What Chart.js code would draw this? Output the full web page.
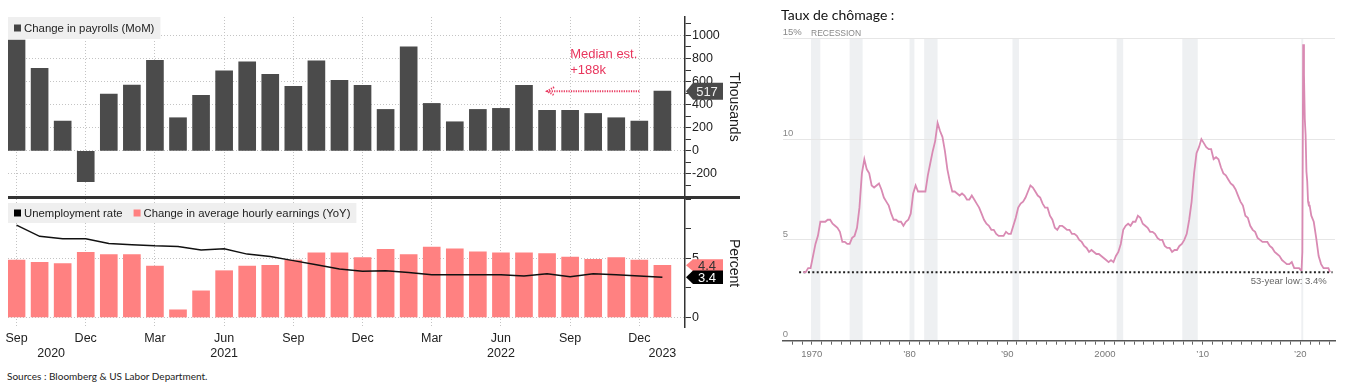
<!DOCTYPE html>
<html>
<head>
<meta charset="utf-8">
<script src="https://cdn.jsdelivr.net/npm/chart.js@4.4.0/dist/chart.umd.min.js"></script>
<style>
  body { margin: 0; background: #fff; }
  #wrap { position: relative; width: 1350px; height: 388px; overflow: hidden; }
  canvas { position: absolute; }
  .txt { position: absolute; white-space: nowrap; line-height: 1; }
</style>
</head>
<body>
<div id="wrap">
  <canvas id="payrolls" width="742" height="198" style="left:0;top:0"></canvas>
  <canvas id="wages" width="742" height="170" style="left:0;top:198px"></canvas>
  <div style="position:absolute;left:8px;top:196px;width:732px;height:3px;background:#333"></div>
  <div class="txt" style="left:7px;top:371px;font-family:Lato;font-size:10px;color:#222">Sources : Bloomberg &amp; US Labor Department.</div>
  <canvas id="unrate" width="605" height="388" style="left:745px;top:0"></canvas>
  <div class="txt" style="left:781px;top:8px;font-family:Lato;font-size:14px;color:#111">Taux de chômage :</div>
</div>
<script>
  // ---- left panel: monthly data, Sep 2020 -> Jan 2023 ----
  const months = ['Sep 20','Oct 20','Nov 20','Dec 20','Jan 21','Feb 21','Mar 21','Apr 21','May 21','Jun 21','Jul 21','Aug 21',
    'Sep 21','Oct 21','Nov 21','Dec 21','Jan 22','Feb 22','Mar 22','Apr 22','May 22','Jun 22','Jul 22','Aug 22',
    'Sep 22','Oct 22','Nov 22','Dec 22','Jan 23'];
  const payrolls = [960, 716, 258, -267, 493, 571, 785, 287, 481, 693, 771, 664, 559, 780, 612, 568,
    359, 902, 411, 252, 359, 368, 568, 351, 351, 324, 287, 258, 517];
  const unemployment = [7.8, 6.85, 6.65, 6.65, 6.25, 6.15, 6.05, 6.0, 5.7, 5.8, 5.35, 5.15, 4.8, 4.45, 4.1, 3.9,
    3.95, 3.8, 3.6, 3.6, 3.6, 3.6, 3.5, 3.7, 3.45, 3.7, 3.6, 3.5, 3.4];
  const hourlyEarnings = [4.85, 4.65, 4.55, 5.5, 5.3, 5.3, 4.35, 0.65, 2.25, 3.95, 4.35, 4.4, 4.85, 5.45, 5.45, 5.05,
    5.75, 5.3, 5.95, 5.8, 5.55, 5.45, 5.45, 5.4, 5.1, 4.9, 5.05, 4.85, 4.4];
  const medianEstimate = 188;

  // x tick positions (month index) and their labels
  const monthTickPos = [0, 1.5, 3, 6, 9, 12, 15, 18, 21, 24, 27, 28];
  const monthTickText = ['Sep', ['', '2020'], 'Dec', 'Mar', ['Jun', '2021'], 'Sep', 'Dec', 'Mar', ['Jun', '2022'], 'Sep', 'Dec', ['', '2023']];
  const payrollTicks = [-300, -200, -100, 0, 100, 200, 300, 400, 500, 600, 700, 800, 900, 1000, 1100];
  const payrollLabels = [-200, 0, 200, 400, 600, 800, 1000];
  const percentTicks = [0, 2.5, 5, 7.5, 10];
  const percentLabels = [0, 5];

  // ---- right panel: US unemployment rate ----
  const unrateQuarterly = [ // 1969 Q1 .. 2019 Q4
    3.4,3.4,3.6,3.6, 4.2,4.8,5.2,5.9, 5.9,5.9,6.0,6.0, 5.8,5.7,5.6,5.4, 4.9,4.9,4.8,4.8,
    5.1,5.2,5.6,6.6, 8.3,9.0,8.5,8.3, 7.7,7.6,7.7,7.8, 7.5,7.1,6.9,6.7, 6.3,6.0,6.0,5.9,
    5.9,5.7,5.9,6.0, 6.3,7.3,7.7,7.4, 7.4,7.4,7.4,8.2, 8.8,9.4,9.9,10.8, 10.4,10.1,9.4,8.5,
    7.9,7.4,7.4,7.3, 7.2,7.3,7.2,7.0, 7.0,7.2,7.0,6.8, 6.6,6.3,6.0,5.8, 5.7,5.5,5.5,5.3,
    5.2,5.2,5.2,5.4, 5.3,5.3,5.7,6.1, 6.6,6.8,6.9,7.1, 7.4,7.7,7.6,7.4, 7.2,7.1,6.8,6.6,
    6.6,6.2,6.0,5.6, 5.5,5.7,5.7,5.6, 5.5,5.5,5.3,5.3, 5.2,5.0,4.9,4.7, 4.6,4.4,4.5,4.4,
    4.3,4.3,4.2,4.1, 4.0,3.9,4.0,3.9, 4.2,4.4,4.8,5.5, 5.7,5.8,5.7,5.9, 5.9,6.2,6.1,5.8,
    5.7,5.6,5.4,5.4, 5.3,5.1,5.0,5.0, 4.7,4.6,4.6,4.4, 4.5,4.5,4.7,4.8, 5.0,5.3,6.0,6.9,
    8.3,9.3,9.6,10.0, 9.8,9.6,9.5,9.5, 9.0,9.1,9.0,8.6, 8.3,8.2,8.0,7.8, 7.7,7.5,7.2,6.9,
    6.7,6.2,6.1,5.7, 5.5,5.4,5.1,5.0, 4.9,4.9,4.9,4.7, 4.6,4.4,4.3,4.2, 4.0,3.9,3.8,3.8,
    3.9,3.6,3.6,3.6
  ];
  const unrate2020 = [3.5, 3.5, 4.4, 14.7, 13.2, 11.0, 10.2, 8.4, 7.9, 6.9, 6.7, 6.7];
  const unrateQuarterly2021 = [6.2, 5.9, 5.1, 4.2, 3.8, 3.6, 3.6, 3.6];
  const unrateJan2023 = 3.4;
  const lowRate = 3.4, lowFrom = 1968.7, lowTo = 2023.3;
  const recessions = [[1969.92, 1970.87], [1973.87, 1975.2], [1980.0, 1980.5], [1981.5, 1982.87],
    [1990.54, 1991.2], [2001.2, 2001.87], [2007.92, 2009.5], [2020.1, 2020.3]];
  const decadeYears = [1970, 1980, 1990, 2000, 2010, 2020];
  const decadeText = ['1970', '\u201980', '\u201990', '2000', '\u201910', '\u201920'];

  Chart.defaults.font.family = '"Liberation Sans", Arial, sans-serif';
  Chart.defaults.color = '#222';

  const FONT = '"Liberation Sans", Arial, sans-serif';

  // legend drawn inside the plot on a grey strip
  const boxLegend = {
    id: 'boxLegend',
    afterDatasetsDraw(chart, args, o) {
      const ctx = chart.ctx, a = chart.chartArea;
      const items = o.order.map(i => chart.data.datasets[i]);
      ctx.save();
      ctx.font = o.fontSize + 'px ' + FONT;
      let w = 6;
      items.forEach((d, i) => { w += 10 + ctx.measureText(d.label).width + (i < items.length - 1 ? 11 : 6); });
      const x0 = a.left, y0 = a.top + o.top, h = o.height;
      ctx.fillStyle = '#efefef';
      ctx.fillRect(x0, y0, w, h);
      let x = x0 + 6;
      ctx.textBaseline = 'middle';
      items.forEach(d => {
        ctx.fillStyle = d.legendColor;
        ctx.fillRect(x, y0 + h / 2 - 3.5, 7, 7);
        x += 10;
        ctx.fillStyle = '#222';
        ctx.fillText(d.label, x, y0 + h / 2 + 0.5);
        x += ctx.measureText(d.label).width + 11;
      });
      ctx.restore();
    }
  };

  // last-value tags on the right axis
  const valueTags = {
    id: 'valueTags',
    afterDraw(chart, args, o) {
      const ctx = chart.ctx, a = chart.chartArea, ys = chart.scales.y;
      ctx.save();
      o.tags.forEach(t => {
        const ds = chart.data.datasets[t.dataset];
        const v = ds.data[ds.data.length - 1].y;
        const py = ys.getPixelForValue(v);
        const x0 = a.right + 1, x1 = a.right + 8, x2 = a.right + 38, h = t.h;
        ctx.beginPath();
        ctx.moveTo(x0, py); ctx.lineTo(x1, py - h / 2); ctx.lineTo(x2, py - h / 2);
        ctx.lineTo(x2, py + h / 2); ctx.lineTo(x1, py + h / 2); ctx.closePath();
        ctx.fillStyle = t.bg; ctx.fill();
        ctx.fillStyle = t.fg;
        ctx.font = '13px ' + FONT;
        ctx.textAlign = 'center'; ctx.textBaseline = 'middle';
        ctx.fillText(t.decimals ? v.toFixed(t.decimals) : String(v), (x1 + x2) / 2 - 1, py + 1);
      });
      ctx.restore();
    }
  };

  const medianNote = {
    id: 'medianNote',
    afterDatasetsDraw(chart, args, o) {
      const {ctx, scales: {x, y}} = chart;
      ctx.save();
      ctx.fillStyle = o.color; ctx.strokeStyle = o.color;
      ctx.font = '13px ' + FONT;
      ctx.textBaseline = 'middle';
      ctx.fillText('Median est.', x.getPixelForValue(o.textX), y.getPixelForValue(o.textY[0]));
      ctx.fillText('+' + medianEstimate + 'k', x.getPixelForValue(o.textX), y.getPixelForValue(o.textY[1]));
      const ay = y.getPixelForValue(payrolls[payrolls.length - 1]);
      const xa = x.getPixelForValue(o.arrowFrom), xb = x.getPixelForValue(o.arrowTo);
      ctx.lineWidth = 2; ctx.setLineDash([1.2, 1.2]);
      ctx.beginPath(); ctx.moveTo(xa, ay); ctx.lineTo(xb, ay); ctx.stroke();
      ctx.beginPath(); ctx.moveTo(xb + 7, ay - 4); ctx.lineTo(xb, ay); ctx.lineTo(xb + 7, ay + 4); ctx.stroke();
      ctx.restore();
    }
  };

  function monthAxis(showLabels) {
    return {
      type: 'linear', min: -0.37, max: 28.98, offset: false,
      afterBuildTicks: s => { s.ticks = monthTickPos.map(v => ({value: v})); },
      afterFit: s => { s.height = showLabels ? 41 : 0; s.paddingLeft = 0; s.paddingRight = 0; },
      grid: { offset: false, color: c => (c.tick && c.tick.value % 3 === 0) ? '#c4c4c4' : 'transparent', drawTicks: false },
      border: { display: false, dash: [1, 2] },
      ticks: {
        display: showLabels, autoSkip: false, maxRotation: 0, padding: 4,
        font: { size: 12.5 }, color: '#222',
        callback: (v, i) => monthTickText[i]
      }
    };
  }

  function valueAxis(min, max, tickList, labelList, gridList, title) {
    return {
      position: 'right', min: min, max: max,
      afterBuildTicks: s => { s.ticks = tickList.map(v => ({value: v})); },
      afterFit: s => { s.width = 57; s.paddingTop = 0; s.paddingBottom = 0; },
      grid: {
        color: c => gridList.includes(c.tick.value) ? '#c4c4c4' : 'transparent',
        tickColor: '#333', tickLength: 6, tickBorderDash: []
      },
      border: { color: '#333', width: 1.5, dash: [1, 2] },
      ticks: {
        autoSkip: false, padding: 1, font: { size: 12.5 }, color: '#222',
        callback: v => labelList.includes(v) ? v : ''
      },
      title: { display: true, text: title, font: { size: 14 }, color: '#222', padding: 0 }
    };
  }

  // ---- top: payrolls ----
  new Chart(document.getElementById('payrolls'), {
    type: 'bar',
    data: {
      datasets: [{
        label: 'Change in payrolls (MoM)', legendColor: '#444',
        data: payrolls.map((v, i) => ({x: i, y: v})),
        backgroundColor: '#4b4b4b', barThickness: 17
      }]
    },
    options: {
      responsive: false, animation: false,
      layout: { padding: { left: 8, top: 17, bottom: 1, right: 0 } },
      plugins: {
        legend: { display: false }, tooltip: { enabled: false },
        boxLegend: { order: [0], top: 0, height: 22, fontSize: 11.4 },
        valueTags: { tags: [{ dataset: 0, bg: '#4a4a4a', fg: '#eeeeee', h: 17 }] },
        medianNote: { color: '#e8365d', textX: 24.0, textY: [833, 694], arrowFrom: 27.0, arrowTo: 23.0 }
      },
      scales: {
        x: monthAxis(false),
        y: valueAxis(-400, 1160, payrollTicks, payrollLabels, payrollLabels, 'Thousands')
      }
    },
    plugins: [boxLegend, valueTags, medianNote]
  });

  // ---- bottom: unemployment + hourly earnings ----
  new Chart(document.getElementById('wages'), {
    type: 'bar',
    data: {
      datasets: [
        { type: 'line', label: 'Unemployment rate', legendColor: '#000',
          data: unemployment.map((v, i) => ({x: i, y: v})),
          borderColor: '#111', borderWidth: 1.5, pointRadius: 0, order: 0 },
        { type: 'bar', label: 'Change in average hourly earnings (YoY)', legendColor: '#ff8080',
          data: hourlyEarnings.map((v, i) => ({x: i, y: v})),
          backgroundColor: '#ff8181', barThickness: 17, order: 1 }
      ]
    },
    options: {
      responsive: false, animation: false,
      layout: { padding: { left: 8, top: 1, bottom: 0, right: 0 } },
      plugins: {
        legend: { display: false }, tooltip: { enabled: false },
        boxLegend: { order: [0, 1], top: 4, height: 20, fontSize: 11.3 },
        valueTags: { tags: [
          { dataset: 1, bg: '#ff8080', fg: '#333', h: 12, decimals: 1 },
          { dataset: 0, bg: '#000', fg: '#fff', h: 13.5, decimals: 1 }
        ] }
      },
      scales: {
        x: monthAxis(true),
        y: valueAxis(-0.8, 10, percentTicks, percentLabels, percentLabels, 'Percent')
      }
    },
    plugins: [boxLegend, valueTags]
  });

  // ---- right: unemployment rate since 1969 ----
  const unratePoints = [];
  unrateQuarterly.forEach((v, i) => unratePoints.push({x: 1969 + i / 4 + 0.125, y: v}));
  unrate2020.forEach((v, i) => unratePoints.push({x: 2020 + i / 12 + 1 / 24, y: v}));
  unrateQuarterly2021.forEach((v, i) => unratePoints.push({x: 2021 + i / 4 + 0.125, y: v}));
  unratePoints.push({x: 2023.04, y: unrateJan2023});

  const recessionBands = {
    id: 'recessionBands',
    beforeDraw(chart) {
      const {ctx, chartArea: a, scales: {x}} = chart;
      ctx.save();
      ctx.fillStyle = '#eef0f2';
      recessions.forEach(([s, e]) => {
        const x0 = x.getPixelForValue(s), x1 = x.getPixelForValue(e);
        ctx.fillRect(x0, a.top, x1 - x0, a.bottom - a.top);
      });
      ctx.font = '8.5px ' + FONT;
      ctx.fillStyle = '#888';
      ctx.textBaseline = 'middle';
      ctx.fillText('RECESSION', x.getPixelForValue(recessions[0][0]), a.top - 5);
      ctx.restore();
    },
    afterDatasetsDraw(chart) {
      const {ctx, scales: {x, y}} = chart;
      ctx.save();
      ctx.font = '9.5px ' + FONT;
      ctx.fillStyle = '#666';
      ctx.textAlign = 'right'; ctx.textBaseline = 'middle';
      ctx.fillText('53-year low: ' + lowRate + '%', x.getPixelForValue(2022.7), y.getPixelForValue(lowRate) + 9);
      ctx.restore();
    }
  };

  new Chart(document.getElementById('unrate'), {
    type: 'line',
    data: {
      datasets: [
        { label: 'Unemployment rate', data: unratePoints, borderColor: '#d98ab3', borderWidth: 1.8, pointRadius: 0 },
        { label: '53-year low', data: [{x: lowFrom, y: lowRate}, {x: lowTo, y: lowRate}],
          borderColor: '#222', borderWidth: 2, borderDash: [2, 2.4], pointRadius: 0 }
      ]
    },
    options: {
      responsive: false, animation: false,
      layout: { padding: { left: 37.7, right: 15, top: 38.3, bottom: 0 } },
      plugins: { legend: { display: false }, tooltip: { enabled: false } },
      scales: {
        x: {
          type: 'linear', min: 1967.02, max: 2023.55,
          afterBuildTicks: s => {
            const t = [];
            for (let yr = 1968; yr <= 2023; yr++) t.push({value: yr});
            s.ticks = t;
          },
          afterFit: s => { s.height = 47.3; s.paddingLeft = 0; s.paddingRight = 0; },
          grid: { drawOnChartArea: false, tickLength: 4, tickColor: '#666', tickWidth: 1 },
          border: { color: '#555', width: 1.5 },
          ticks: {
            autoSkip: false, maxRotation: 0, padding: 4, font: { size: 9.5 }, color: '#777',
            callback: v => { const k = decadeYears.indexOf(v); return k >= 0 ? decadeText[k] : ''; }
          }
        },
        y: {
          min: 0, max: 15,
          afterFit: s => { s.width = 0; s.paddingTop = 0; s.paddingBottom = 0; },
          grid: { color: c => c.tick.value === 0 ? 'transparent' : '#e6e6e6', drawTicks: false },
          border: { display: false },
          ticks: {
            stepSize: 5, mirror: true, padding: 0, labelOffset: -6, font: { size: 9.5 }, color: '#888',
            callback: v => v === 15 ? '15%' : v
          }
        }
      }
    },
    plugins: [recessionBands]
  });
</script>
</body>
</html>
